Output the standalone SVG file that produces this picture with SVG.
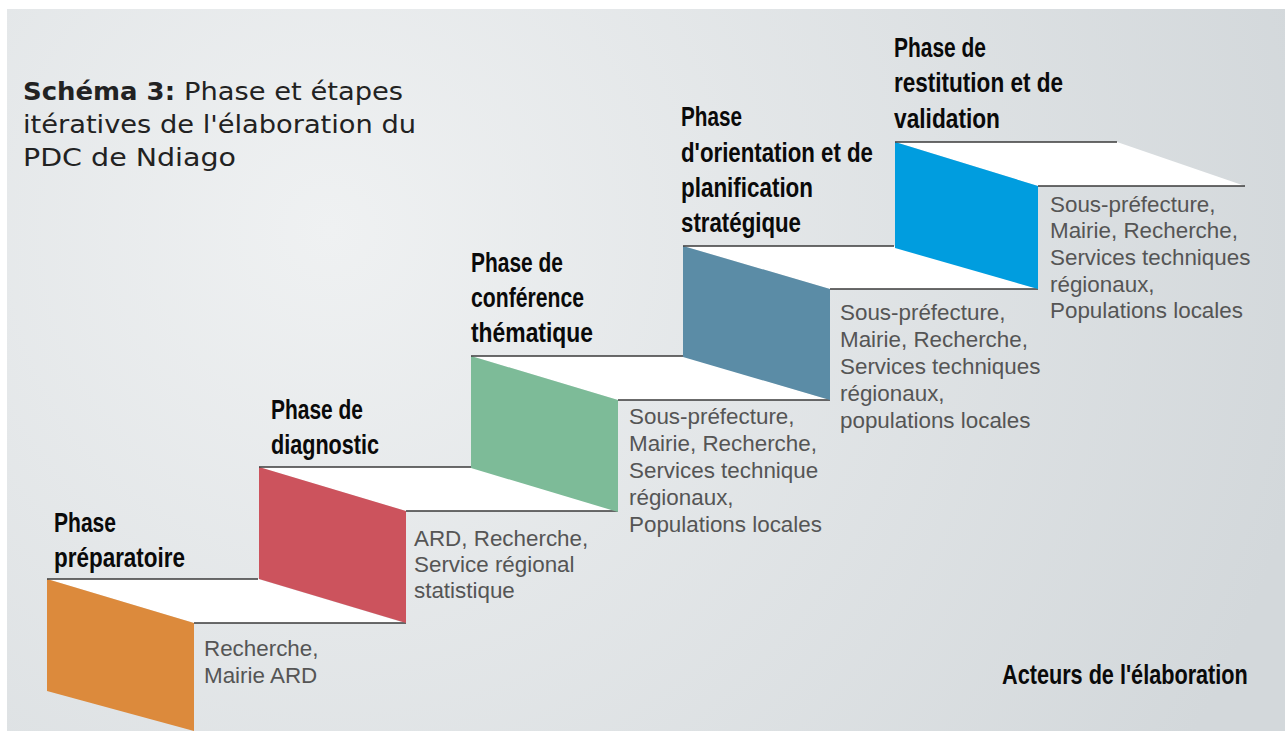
<svg xmlns="http://www.w3.org/2000/svg" width="1285" height="731" viewBox="0 0 1285 731">
  <defs>
    <radialGradient id="bg" cx="330" cy="230" r="1000" gradientUnits="userSpaceOnUse">
      <stop offset="0" stop-color="#eff1f2"/>
      <stop offset="1" stop-color="#d3d8db"/>
    </radialGradient>
    <style>
      .top { fill: #ffffff; }
      .edge { stroke: #3a3a3a; stroke-width: 1.5; fill: none; }
      .phase { font-family: "Liberation Sans", Arial, sans-serif; font-weight: bold; font-size: 28px; fill: #0a0a0a; }
      .actor { font-family: "Liberation Sans", Arial, sans-serif; font-size: 22.4px; fill: #555555; }
      .title { font-family: "DejaVu Sans", "Liberation Sans", sans-serif; font-size: 24px; fill: #222222; }
    </style>
  </defs>

  <rect x="0" y="0" width="1285" height="731" fill="#ffffff"/>
  <rect x="7" y="9" width="1278" height="722" fill="url(#bg)"/>

  <g id="title">
    <text class="title" x="23" y="100"><tspan font-weight="bold" textLength="152" lengthAdjust="spacingAndGlyphs">Schéma 3:</tspan></text>
    <text class="title" x="184" y="100" textLength="219" lengthAdjust="spacingAndGlyphs">Phase et étapes</text>
    <text class="title" x="23" y="133" textLength="393" lengthAdjust="spacingAndGlyphs">itératives de l'élaboration du</text>
    <text class="title" x="23" y="166" textLength="213" lengthAdjust="spacingAndGlyphs">PDC de Ndiago</text>
  </g>

  <g id="step1">
    <polygon class="top" points="47,579 258,579 405,623 194,623"/>
    <polygon fill="#dc8a3c" points="47,579 194,623 194,731 47,691"/>
    <line class="edge" x1="47" y1="579" x2="258" y2="579"/>
    <line class="edge" x1="194" y1="623" x2="406" y2="623"/>
    <text class="phase" x="54" y="532" textLength="62" lengthAdjust="spacingAndGlyphs">Phase</text>
    <text class="phase" x="54" y="567" textLength="131" lengthAdjust="spacingAndGlyphs">préparatoire</text>
    <text class="actor" x="204" y="656">Recherche,</text>
    <text class="actor" x="204" y="683">Mairie ARD</text>
  </g>

  <g id="step2">
    <polygon class="top" points="259,467 471,467 618,511 406,511"/>
    <polygon fill="#cc535d" points="259,467 406,511 406,623 259,579"/>
    <line class="edge" x1="259" y1="467" x2="471" y2="467"/>
    <line class="edge" x1="406" y1="511" x2="618" y2="511"/>
    <text class="phase" x="271" y="419" textLength="92" lengthAdjust="spacingAndGlyphs">Phase de</text>
    <text class="phase" x="271" y="454" textLength="108" lengthAdjust="spacingAndGlyphs">diagnostic</text>
    <text class="actor" x="414" y="546">ARD, Recherche,</text>
    <text class="actor" x="414" y="572">Service régional</text>
    <text class="actor" x="414" y="598">statistique</text>
  </g>

  <g id="step3">
    <polygon class="top" points="471,356 683,356 830,400 618,400"/>
    <polygon fill="#7dbb98" points="471,356 618,400 618,512 471,468"/>
    <line class="edge" x1="471" y1="356" x2="683" y2="356"/>
    <line class="edge" x1="618" y1="400" x2="830" y2="400"/>
    <text class="phase" x="471" y="272" textLength="92" lengthAdjust="spacingAndGlyphs">Phase de</text>
    <text class="phase" x="471" y="307" textLength="113" lengthAdjust="spacingAndGlyphs">conférence</text>
    <text class="phase" x="471" y="342" textLength="122" lengthAdjust="spacingAndGlyphs">thématique</text>
    <text class="actor" x="629" y="424">Sous-préfecture,</text>
    <text class="actor" x="629" y="451">Mairie, Recherche,</text>
    <text class="actor" x="629" y="478">Services technique</text>
    <text class="actor" x="629" y="505">régionaux,</text>
    <text class="actor" x="629" y="532">Populations locales</text>
  </g>

  <g id="step4">
    <polygon class="top" points="683,246 894,246 1038,289 830,289"/>
    <polygon fill="#5b8ca6" points="683,246 830,289 830,400 683,357"/>
    <line class="edge" x1="683" y1="246" x2="894" y2="246"/>
    <line class="edge" x1="830" y1="289" x2="1038" y2="289"/>
    <text class="phase" x="681" y="126" textLength="61" lengthAdjust="spacingAndGlyphs">Phase</text>
    <text class="phase" x="681" y="162" textLength="192" lengthAdjust="spacingAndGlyphs">d'orientation et de</text>
    <text class="phase" x="681" y="197" textLength="132" lengthAdjust="spacingAndGlyphs">planification</text>
    <text class="phase" x="681" y="232" textLength="120" lengthAdjust="spacingAndGlyphs">stratégique</text>
    <text class="actor" x="840" y="320">Sous-préfecture,</text>
    <text class="actor" x="840" y="347">Mairie, Recherche,</text>
    <text class="actor" x="840" y="374">Services techniques</text>
    <text class="actor" x="840" y="401">régionaux,</text>
    <text class="actor" x="840" y="428">populations locales</text>
  </g>

  <g id="step5">
    <polygon class="top" points="895,142 1117,142 1245,186 1038,186"/>
    <polygon fill="#009ddf" points="895,142 1038,186 1038,289 895,248"/>
    <line class="edge" x1="895" y1="142" x2="1117" y2="142"/>
    <line class="edge" x1="1038" y1="186" x2="1245" y2="186"/>
    <text class="phase" x="894" y="57" textLength="92" lengthAdjust="spacingAndGlyphs">Phase de</text>
    <text class="phase" x="894" y="92" textLength="169" lengthAdjust="spacingAndGlyphs">restitution et de</text>
    <text class="phase" x="894" y="128" textLength="106" lengthAdjust="spacingAndGlyphs">validation</text>
    <text class="actor" x="1050" y="212">Sous-préfecture,</text>
    <text class="actor" x="1050" y="238">Mairie, Recherche,</text>
    <text class="actor" x="1050" y="265">Services techniques</text>
    <text class="actor" x="1050" y="292">régionaux,</text>
    <text class="actor" x="1050" y="318">Populations locales</text>
  </g>

  <g id="legend">
    <text class="phase" x="0" y="0" transform="translate(1002,684) scale(0.774,1)">Acteurs de l'élaboration</text>
  </g>

  <g id="connectors"/>
</svg>
